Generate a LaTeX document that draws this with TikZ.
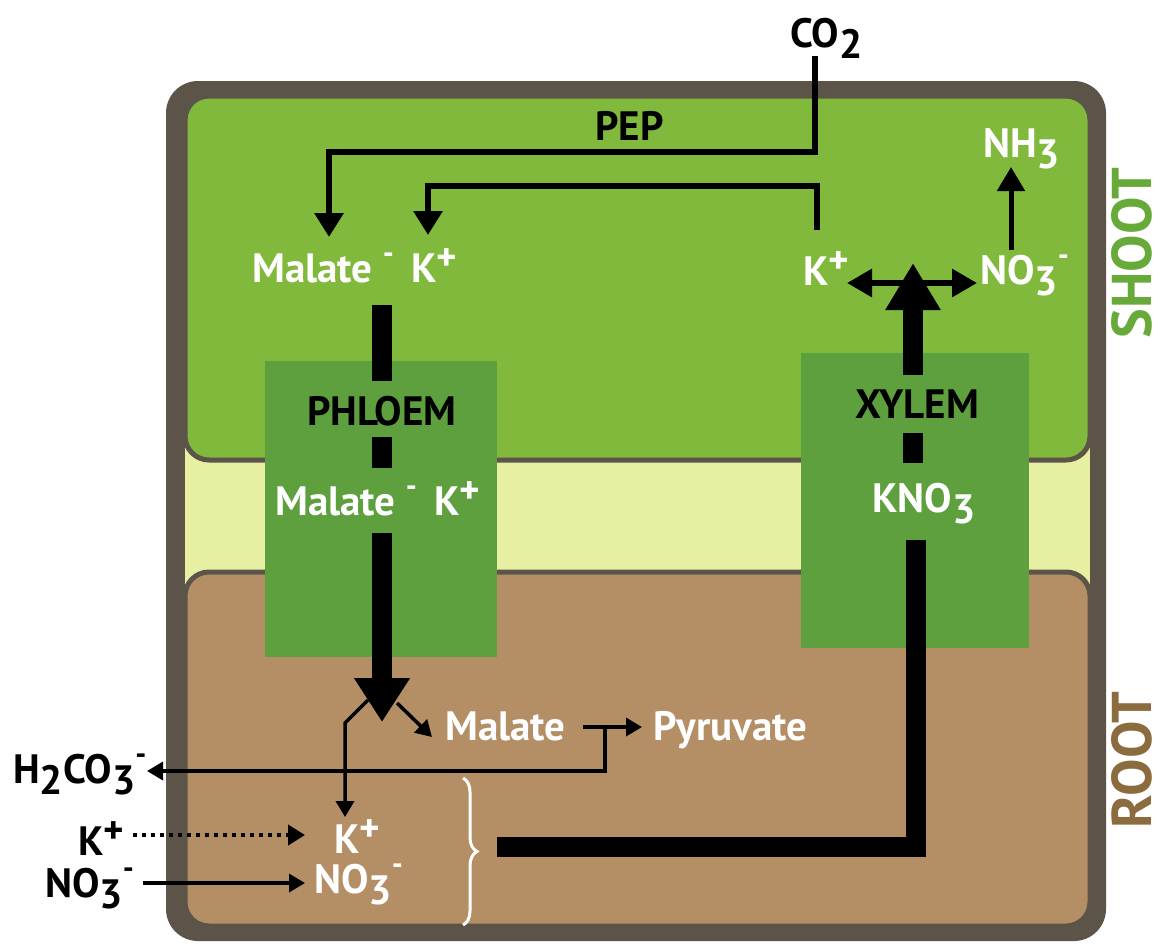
\documentclass[tikz,border=0pt]{standalone}
\usepackage{graphicx}
\usepackage{fontspec}
\setmainfont{PT Sans}
\usetikzlibrary{arrows.meta,decorations.pathreplacing}
\definecolor{shoot}{RGB}{128,185,60}
\definecolor{pale}{RGB}{230,239,162}
\definecolor{rootc}{RGB}{180,142,100}
\definecolor{vessel}{RGB}{94,160,62}
\definecolor{framec}{RGB}{92,84,72}
\definecolor{shoottext}{RGB}{104,170,58}
\definecolor{roottext}{RGB}{140,108,62}
\newcommand\dnn[1]{\raisebox{-0.27em}{#1}}
\newcommand\pls{\raisebox{0.28em}{\scalebox{0.95}{+}}}
\newcommand\mns{\raisebox{0.45em}{\scalebox{0.75}{-}}}
\tikzset{
  lab/.style={font=\fontsize{41}{44}\selectfont\bfseries, inner sep=0pt, anchor=base west},
  wl/.style={lab, text=white},
  bl/.style={lab, text=black},
  bar/.style={line width=20pt, draw=black},
  med/.style={line width=6.5pt, draw=black, -{Triangle[width=28pt,length=24pt]}},
  thinarr/.style={line width=3.5pt, draw=black, -{Triangle[width=18pt,length=16pt]}},
  side/.style={font=\fontsize{56}{60}\selectfont\bfseries, inner sep=0pt, rotate=90, anchor=south},
}
\begin{document}
\begin{tikzpicture}[x=1pt,y=-1pt]
\useasboundingbox (0,0) rectangle (1166,945);
\fill[white] (0,0) rectangle (1166,945);
% frame and panels
\fill[framec, rounded corners=32pt] (166,81) rectangle (1106,941);
\fill[pale] (185,420) rectangle (1090,610);
\filldraw[fill=shoot, draw=framec, line width=5pt, rounded corners=24pt] (185,96) rectangle (1090,460);
\filldraw[fill=rootc, draw=framec, line width=5pt, rounded corners=24pt] (185,572) rectangle (1090,926);
% vessels
\fill[vessel] (265,361) rectangle (497,657);
\fill[vessel] (801,353) rectangle (1029,648);
% labels
\node[bl] (co2) at (790,47) {CO\dnn{2}};
\node[bl] (pep) at (595,140) {PEP};
\node[wl] (ma1) at (252,282) {Malate\hspace{0.25em}\mns\hspace{0.42em}K\pls};
\node[wl] (ksh) at (803,285) {K\pls};
\node[wl] (nosh) at (980,284) {NO\dnn{3}\mns};
\node[wl] (nh3) at (983,157) {NH\dnn{3}};
\node[bl] (phl) at (307,425) {PHLOEM};
\node[bl] (xyl) at (855,418) {XYLEM};
\node[wl] (ma2) at (275,515) {Malate\hspace{0.25em}\mns\hspace{0.42em}K\pls};
\node[wl] (kno) at (872,512) {KNO\dnn{3}};
\node[wl] (mal) at (445,740) {Malate};
\node[wl] (pyr) at (653,740) {Pyruvate};
\node[bl] (h2co) at (13,783) {H\dnn{2}CO\dnn{3}\mns};
\node[bl] (kl) at (78,855) {K\pls};
\node[bl] (nol) at (45,897) {NO\dnn{3}\mns};
\node[wl] (krt) at (334,853) {K\pls};
\node[wl] (nort) at (314,893) {NO\dnn{3}\mns};
\node[side, text=shoottext] (shootlab) at (1152,253) {SHOOT};
\node[side, text=roottext] (rootlab) at (1152,760) {ROOT};
% coordinates
\coordinate (co2b) at (815,56);
\coordinate (pepa) at (329,237);
\coordinate (kin) at (817,230);
\coordinate (ka) at (428,235);
% shoot connectors
\draw[med] (co2b) -- (815,152) -| (pepa);
\draw[med] (kin) -- (817,186) -| (ka);
\draw[line width=6pt, {Triangle[width=27pt,length=25pt]}-{Triangle[width=27pt,length=25pt]}] (847,283) -- (977,283);
\draw[line width=5pt, -{Triangle[width=27pt,length=24pt]}] (1011,250) -- (1011,167);
% phloem flow
\draw[bar] (382,305) -- (382,381);
\draw[bar] (382,437) -- (382,468);
\draw[bar, -{Triangle[width=53pt,length=44pt]}] (382,533) -- (382,722);
% xylem flow
\draw[bar, -{Triangle[width=52pt,length=47pt]}] (913,375) -- (913,263);
\draw[bar] (913,433) -- (913,463);
\draw[bar, line join=miter] (497,847) -- (916,847) -- (916,540);
% root connectors
\draw[thinarr] (368,700) -- (345,723) -- (345,817);
\draw[thinarr] (397,703) -- (432,737);
\draw[thinarr] (583,727) -- (642,727);
\draw[thinarr] (605,727) -- (605,771) -- (147,771);
\draw[line width=4pt, dash pattern=on 4pt off 5pt, -{Triangle[width=20pt,length=17pt]}] (133,835) -- (305,835);
\draw[thinarr] (143,883) -- (305,883);
\draw[white, line width=3pt, decorate, decoration={brace, amplitude=14pt}] (463,778) -- (463,925);
\end{tikzpicture}
\end{document}
